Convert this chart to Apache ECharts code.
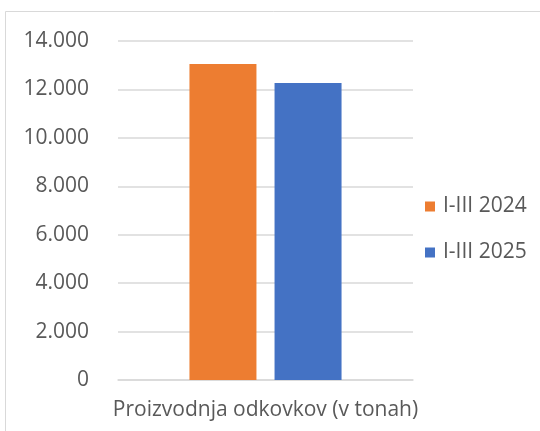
<!DOCTYPE html>
<html>
<head>
<meta charset="utf-8">
<script src="https://cdn.jsdelivr.net/npm/echarts@6/dist/echarts.min.js"></script>
<style>
  html, body { margin: 0; padding: 0; background: #fff; }
  #chart { width: 540px; height: 431px; }
</style>
</head>
<body>
<div id="chart"></div>
<script>
// data
const categories = ['Proizvodnja odkovkov (v tonah)']
const seriesNames = ['I-III 2024', 'I-III 2025']
const values2024 = [13050]
const values2025 = [12270]
const colors = ['#ED7D31', '#4472C4']

const textColor = '#595959'
const fontFamily = '"Open Sans", Lato, sans-serif'

const chart = echarts.init(document.getElementById('chart'))

chart.setOption({
  animation: false,
  backgroundColor: '#fff',
  textStyle: { fontFamily: fontFamily },
  graphic: [{
    type: 'rect',
    shape: { x: 5.5, y: 11.5, width: 600, height: 500 },
    style: { fill: 'none', stroke: '#d9d9d9', lineWidth: 1 },
    silent: true
  }],
  grid: {
    left: 118,
    right: 127,
    top: 41,
    bottom: 51
  },
  legend: {
    orient: 'vertical',
    left: 420,
    top: 191,
    itemWidth: 10,
    itemHeight: 10,
    itemGap: 25,
    icon: 'rect',
    data: seriesNames,
    textStyle: {
      color: textColor,
      fontSize: 21,
      fontFamily: fontFamily,
      padding: [0, 0, 0, 3]
    }
  },
  xAxis: {
    type: 'category',
    data: categories,
    axisLine: { show: true, lineStyle: { color: '#d9d9d9', width: 1.5 } },
    axisTick: { show: false },
    axisLabel: {
      color: textColor,
      fontSize: 21,
      margin: 20,
      fontFamily: fontFamily
    }
  },
  yAxis: {
    type: 'value',
    min: 0,
    max: 14000,
    interval: 2000,
    axisLine: { show: false },
    axisTick: { show: false },
    splitLine: { lineStyle: { color: '#d9d9d9', width: 1.5 } },
    axisLabel: {
      color: textColor,
      fontSize: 21,
      margin: 29,
      fontFamily: fontFamily,
      formatter: function (v) {
        return v.toString().replace(/\B(?=(\d{3})+(?!\d))/g, '.')
      }
    }
  },
  series: [
    {
      name: seriesNames[0],
      type: 'bar',
      data: values2024,
      barWidth: 67,
      barGap: '27%',
      itemStyle: { color: colors[0] }
    },
    {
      name: seriesNames[1],
      type: 'bar',
      data: values2025,
      barWidth: 67,
      itemStyle: { color: colors[1] }
    }
  ]
})
</script>
</body>
</html>
